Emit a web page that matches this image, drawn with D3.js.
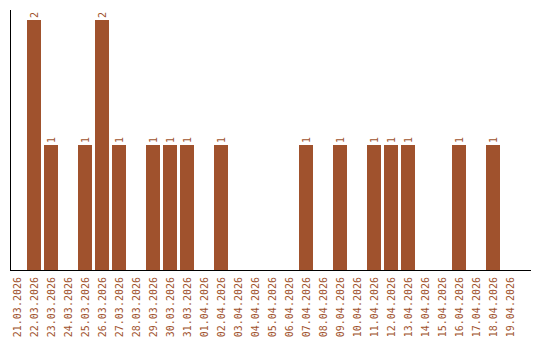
<!DOCTYPE html>
<html>
<head>
<meta charset="utf-8">
<script src="https://cdn.jsdelivr.net/npm/d3@7"></script>
<style>
  body { margin: 0; background: #fff; }
  svg text { font-family: "DejaVu Sans Mono", monospace; font-size: 10px; fill: #a0522d; }
</style>
</head>
<body>
<div id="main"></div>
<script>
var dates = ["21.03.2026","22.03.2026","23.03.2026","24.03.2026","25.03.2026","26.03.2026",
  "27.03.2026","28.03.2026","29.03.2026","30.03.2026","31.03.2026","01.04.2026","02.04.2026",
  "03.04.2026","04.04.2026","05.04.2026","06.04.2026","07.04.2026","08.04.2026","09.04.2026",
  "10.04.2026","11.04.2026","12.04.2026","13.04.2026","14.04.2026","15.04.2026","16.04.2026",
  "17.04.2026","18.04.2026","19.04.2026"];
var counts = [0,2,1,0,1,2,1,0,1,1,1,0,1,0,0,0,0,1,0,1,0,1,1,1,0,0,1,0,1,0];

var width = 540, height = 340;

var svg = d3.select("#main")
  .append("svg")
    .attr("width", width)
    .attr("height", height);

var data = dates.map(function(d, i) { return {date: d, value: counts[i]}; });

// x: one band per day
var x = d3.scaleBand()
  .domain(dates)
  .range([8.5, 518.5])
  .paddingInner(3 / 17)
  .paddingOuter(3 / 34);

var y = d3.scaleLinear()
  .domain([0, 2])
  .range([270, 20]);

// bars
svg.append("g")
  .selectAll("rect")
  .data(data.filter(function(d) { return d.value > 0; }))
  .enter()
  .append("rect")
    .attr("x", function(d) { return x(d.date); })
    .attr("y", function(d) { return y(d.value); })
    .attr("width", x.bandwidth())
    .attr("height", function(d) { return y(0) - y(d.value); })
    .style("fill", "#a0522d");

// value labels above bars
svg.append("g")
  .selectAll("text")
  .data(data.filter(function(d) { return d.value > 0; }))
  .enter()
  .append("text")
    .attr("transform", function(d) {
      return "translate(" + (x(d.date) + x.bandwidth() / 2) + "," + (y(d.value) - 2) + ") rotate(-90)";
    })
    .attr("dy", "0.35em")
    .attr("text-anchor", "start")
    .text(function(d) { return d.value; });

// x axis labels
svg.append("g")
  .selectAll("text")
  .data(dates)
  .enter()
  .append("text")
    .attr("transform", function(d) {
      return "translate(" + (x(d) + x.bandwidth() / 2) + ",277) rotate(-90)";
    })
    .attr("dy", "0.35em")
    .attr("text-anchor", "end")
    .text(function(d) { return d; });

// axis lines
svg.append("line")
  .attr("x1", 10.5).attr("x2", 10.5)
  .attr("y1", 10).attr("y2", 270)
  .style("stroke", "#000");
svg.append("line")
  .attr("x1", 10).attr("x2", 531)
  .attr("y1", 270.5).attr("y2", 270.5)
  .style("stroke", "#000");
</script>
</body>
</html>
